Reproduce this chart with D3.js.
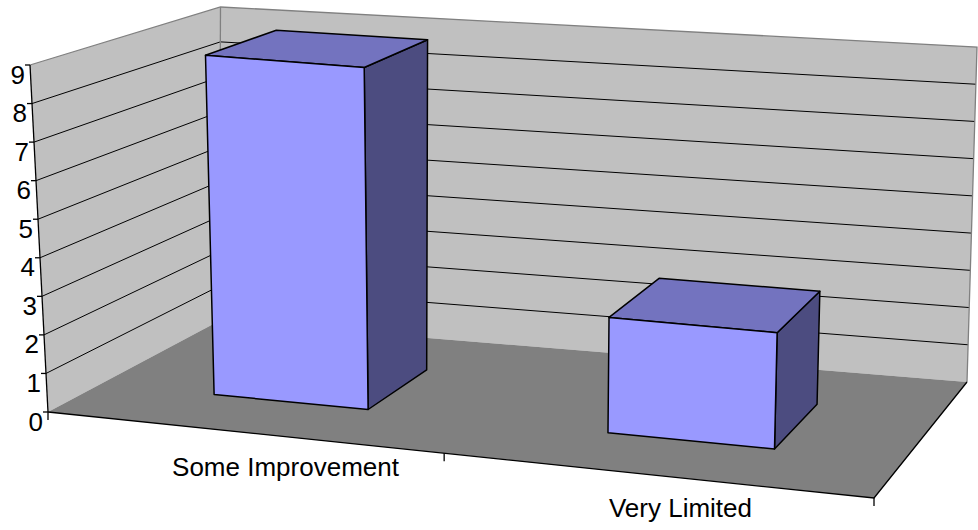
<!DOCTYPE html>
<html><head><meta charset="utf-8">
<script src="https://cdn.jsdelivr.net/npm/d3@7"></script>
<style>html,body{margin:0;padding:0;background:#fff;} svg{display:block;}</style>
</head><body><svg id="chart" width="978" height="530"></svg>
<script>
// ---------- data ----------
const categories = ["Some Improvement", "Very Limited"];
const values = [9, 3];
const yTicks = [0, 1, 2, 3, 4, 5, 6, 7, 8, 9];
const yMax = 9;

// ---------- layout (projected 3-D box) ----------
const floorFL = [48, 412], floorFR = [874, 498], floorBR = [967, 382], floorBL = [219, 321];
const upFL = [-18, -347], upFR = [12, -358], upBR = [10, -335], upBL = [1.5, -314];
const barDepth = [0.3, 0.7];

function makeHomography(p0, p1, p2, p3) {
  const sx = p0[0]-p1[0]+p2[0]-p3[0], sy = p0[1]-p1[1]+p2[1]-p3[1];
  const dx1 = p1[0]-p2[0], dx2 = p3[0]-p2[0], dy1 = p1[1]-p2[1], dy2 = p3[1]-p2[1];
  const den = dx1*dy2 - dx2*dy1;
  const g = (sx*dy2 - dx2*sy)/den, h = (dx1*sy - sx*dy1)/den;
  const a = p1[0]-p0[0]+g*p1[0], b = p3[0]-p0[0]+h*p3[0], c = p0[0];
  const d = p1[1]-p0[1]+g*p1[1], e = p3[1]-p0[1]+h*p3[1], f = p0[1];
  return (u, v) => { const w = g*u + h*v + 1; return [(a*u+b*v+c)/w, (d*u+e*v+f)/w]; };
}
const homo = makeHomography(floorFL, floorFR, floorBR, floorBL);
function bilin(q00, q10, q11, q01, u, v) {
  return [0, 1].map(i => (1-u)*(1-v)*q00[i] + u*(1-v)*q10[i] + u*v*q11[i] + (1-u)*v*q01[i]);
}
// u: across categories (0..1), t: height fraction (0..1), v: depth (0 front .. 1 back)
function project(u, t, v) {
  const hp = homo(u, v), bp = bilin(floorFL, floorFR, floorBR, floorBL, u, v);
  const up = bilin(upFL, upFR, upBR, upBL, u, v);
  return [0.5*(hp[0]+bp[0]) + t*up[0], 0.5*(hp[1]+bp[1]) + t*up[1]];
}

// ---------- scales ----------
const x = d3.scaleBand().domain(categories).range([0, 1]).paddingInner(0.6).paddingOuter(0.3);
const y = d3.scaleLinear().domain([0, yMax]).range([0, 1]);
const labelX = d3.scaleLinear().domain([0, 1]).range([88, 878]);

const svg = d3.select("#chart");
const line = d3.line();
const closed = pts => line(pts) + "Z";
const P = pts => pts.map(p => project(p[0], p[1], p[2]));

// walls and floor
svg.append("path").attr("d", closed(P([[0,0,1],[1,0,1],[1,1,1],[0,1,1]]))).attr("fill", "#C0C0C0");
svg.append("path").attr("d", closed(P([[0,0,0],[0,0,1],[0,1,1],[0,1,0]]))).attr("fill", "#C0C0C0");
svg.append("path").attr("d", closed(P([[0,0,0],[1,0,0],[1,0,1],[0,0,1]]))).attr("fill", "#808080");

// gridlines
const grid = svg.append("g").attr("stroke", "#000").attr("stroke-width", 1).attr("fill", "none");
yTicks.filter(v => v > 0 && v < yMax).forEach(v => {
  grid.append("path").attr("d", line(P([[0, y(v), 0], [0, y(v), 1], [1, y(v), 1]])));
});

// wall edges
const edges = svg.append("g").attr("fill", "none").attr("stroke", "#808080").attr("stroke-width", 1.3);
edges.append("path").attr("d", line(P([[0,1,0],[0,1,1],[1,1,1],[1,0,1]])));
edges.append("path").attr("d", line(P([[0,0,1],[0,1,1]])));

// floor front & right edges, value axis
const axes = svg.append("g").attr("fill", "none").attr("stroke", "#000").attr("stroke-width", 1.3);
axes.append("path").attr("d", line(P([[0,0,0],[1,0,0],[1,0,1]])));
axes.append("path").attr("d", line(P([[0,0,0],[0,1,0]])));

// bars
const faceColors = {front: "#9999FF", top: "#7373BF", side: "#4C4C80"};
categories.forEach((c, i) => {
  const u0 = x(c), u1 = x(c) + x.bandwidth();
  const t = y(values[i]);
  const [v0, v1] = barDepth;
  const g = svg.append("g").attr("stroke", "#000").attr("stroke-width", 1.5).attr("stroke-linejoin", "round");
  g.append("path").attr("d", closed(P([[u1,0,v0],[u1,0,v1],[u1,t,v1],[u1,t,v0]]))).attr("fill", faceColors.side);
  g.append("path").attr("d", closed(P([[u0,t,v0],[u1,t,v0],[u1,t,v1],[u0,t,v1]]))).attr("fill", faceColors.top);
  g.append("path").attr("d", closed(P([[u0,0,v0],[u1,0,v0],[u1,t,v0],[u0,t,v0]]))).attr("fill", faceColors.front);
});

// value axis ticks and labels
yTicks.forEach(v => {
  const p = project(0, y(v), 0);
  axes.append("line").attr("x1", p[0]-5).attr("x2", p[0]).attr("y1", p[1]).attr("y2", p[1]);
  svg.append("text").attr("x", p[0]-5).attr("y", p[1]+18.5)
    .attr("text-anchor", "end").attr("font-family", "Liberation Sans, Arial, sans-serif")
    .attr("font-size", 26).attr("fill", "#000").text(v);
});

// category ticks
d3.range(categories.length + 1).map(i => i / categories.length).forEach(u => {
  const p = project(u, 0, 0);
  axes.append("line").attr("x1", p[0]).attr("x2", p[0]).attr("y1", p[1]).attr("y2", p[1]+8);
});

// category labels
categories.forEach(c => {
  const u = x(c) + x.bandwidth()/2;
  const lx = labelX(u);
  const edgeY = floorFL[1] + (lx - floorFL[0]) * (floorFR[1]-floorFL[1]) / (floorFR[0]-floorFL[0]);
  svg.append("text").attr("x", lx).attr("y", edgeY + 39.5)
    .attr("text-anchor", "middle").attr("font-family", "Liberation Sans, Arial, sans-serif")
    .attr("font-size", 26).attr("fill", "#000").text(c);
});
</script></body></html>
